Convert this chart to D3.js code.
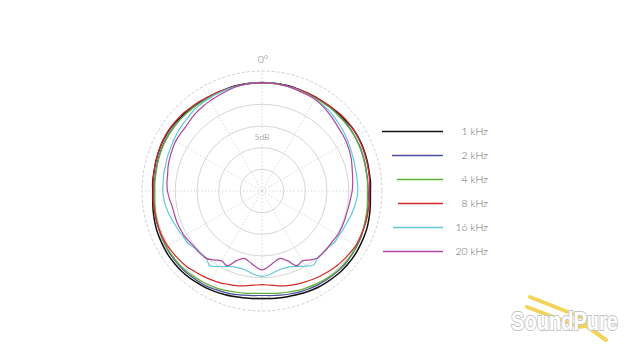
<!DOCTYPE html>
<html>
<head>
<meta charset="utf-8">
<script src="https://cdn.jsdelivr.net/npm/d3@7"></script>
<style>
  body { margin: 0; background: #fff; }
  .grid-line { fill: none; stroke: #d6d6d6; stroke-width: 1; }
  .grid-dash { fill: none; stroke: #cfcfcf; stroke-width: 1; stroke-dasharray: 3,2; }
  .spoke { stroke: #dadada; stroke-width: 1; stroke-dasharray: 1.5,2; }
  .tick-label { font-family: Lato, "Open Sans", sans-serif; font-weight: 300; fill: #6e6e6e; }
  .legend-label { font-family: Lato, "Open Sans", sans-serif; font-weight: 300; fill: #6a6a6a; font-size: 10.5px; }
</style>
</head>
<body>
<div id="wrapper"></div>
<script>

// 1. Data (relative level in dB, sampled every 5 degrees, right and left half)

const halfAngles = d3.range(0, 185, 5)
const frequencies = ["1 kHz", "2 kHz", "4 kHz", "8 kHz", "16 kHz", "20 kHz"]
const ringTicks = [-20, -15, -10, -5, 0]
const spokeAngles = d3.range(0, 360, 30)

const level1kRight = [0.0,0.0,0.0,0.0,-0.1,-0.1,-0.1,-0.1,0.0,0.1,0.2,0.4,0.4,0.4,0.3,0.2,0.1,0.1,0.0,0.1,0.3,0.5,0.7,0.8,0.9,1.0,1.0,1.0,0.9,0.8,0.7,0.5,0.3,0.1,0.0,-0.1,-0.2]
const level1kLeft  = [0.0,0.0,0.0,0.0,-0.1,-0.1,-0.1,0.0,0.1,0.3,0.4,0.6,0.6,0.6,0.5,0.4,0.3,0.3,0.2,0.3,0.5,0.7,0.9,1.0,1.1,1.2,1.2,1.2,1.1,0.9,0.8,0.6,0.4,0.2,0.0,-0.1,-0.2]

const level2kRight = [0.0,0.0,0.0,-0.1,-0.1,-0.2,-0.2,-0.2,-0.1,-0.2,-0.1,-0.1,-0.2,-0.2,-0.3,-0.4,-0.5,-0.5,-0.5,-0.4,-0.3,-0.1,0.0,0.2,0.3,0.4,0.5,0.5,0.4,0.3,0.2,0.0,-0.2,-0.4,-0.6,-0.8,-0.9]
const level2kLeft  = [0.0,0.0,0.0,-0.1,-0.1,-0.2,-0.2,-0.1,0.0,0.0,0.1,0.2,0.2,0.2,0.1,0.0,-0.1,-0.1,-0.1,0.0,0.1,0.3,0.4,0.5,0.6,0.7,0.7,0.7,0.6,0.5,0.4,0.1,-0.1,-0.3,-0.6,-0.8,-0.9]

const level4kRight = [0.0,0.0,-0.1,-0.1,-0.2,-0.2,-0.2,-0.3,-0.2,-0.2,-0.2,-0.2,-0.2,-0.3,-0.4,-0.5,-0.6,-0.6,-0.7,-0.6,-0.4,-0.3,-0.1,0.1,0.2,0.3,0.3,0.3,0.2,0.0,-0.2,-0.4,-0.6,-0.9,-1.1,-1.3,-1.4]
const level4kLeft  = [0.0,0.0,-0.1,-0.1,-0.2,-0.2,-0.2,-0.2,-0.1,0.0,0.1,0.1,0.1,0.1,0.0,-0.1,-0.2,-0.2,-0.3,-0.2,0.0,0.1,0.3,0.4,0.5,0.5,0.5,0.4,0.3,0.1,-0.1,-0.3,-0.6,-0.9,-1.1,-1.3,-1.4]

const level8kRight = [-0.1,-0.1,-0.1,-0.1,-0.1,-0.1,-0.1,0.0,0.1,0.3,0.4,0.4,0.4,0.3,0.2,0.1,0.0,-0.1,-0.2,-0.1,-0.1,0.0,0.0,0.0,0.0,-0.2,-0.4,-0.6,-0.9,-1.2,-1.5,-1.8,-2.1,-2.4,-2.8,-3.2,-3.4]
const level8kLeft  = [-0.1,-0.1,-0.1,-0.1,-0.1,0.0,0.0,0.2,0.3,0.5,0.6,0.7,0.7,0.6,0.5,0.4,0.3,0.2,0.1,0.2,0.2,0.3,0.3,0.3,0.2,0.0,-0.2,-0.4,-0.8,-1.1,-1.4,-1.7,-2.1,-2.4,-2.8,-3.2,-3.4]

const level16kRight = [0.0,0.0,-0.1,-0.2,-0.3,-0.4,-0.5,-0.7,-0.9,-1.2,-1.5,-1.8,-2.1,-2.4,-2.6,-2.8,-2.9,-2.9,-2.9,-3.1,-3.4,-3.7,-4.1,-4.3,-4.5,-4.5,-4.9,-4.9,-5.0,-4.2,-5.0,-5.8,-6.4,-6.5,-6.2,-5.6,-5.3]
const level16kLeft  = [0.0,0.0,-0.1,-0.2,-0.2,-0.3,-0.4,-0.5,-0.6,-0.9,-1.1,-1.3,-1.5,-1.7,-1.8,-2.0,-2.0,-2.1,-2.1,-2.3,-2.6,-3.0,-3.4,-3.7,-4.0,-4.1,-4.6,-4.7,-4.9,-4.0,-4.9,-5.8,-6.4,-6.5,-6.2,-5.6,-5.3]

const level20kRight = [0.0,0.0,-0.1,-0.2,-0.4,-0.5,-0.6,-0.9,-1.3,-1.7,-2.1,-2.3,-2.5,-2.8,-3.1,-3.5,-3.8,-4.0,-4.2,-4.5,-4.7,-4.8,-4.8,-4.8,-4.8,-5.0,-5.0,-5.0,-4.9,-5.6,-6.4,-6.0,-7.9,-8.9,-8.4,-7.5,-6.8]
const level20kLeft  = [0.0,0.0,-0.1,-0.3,-0.6,-0.8,-1.0,-1.2,-1.4,-1.7,-2.0,-2.0,-2.0,-2.2,-2.4,-2.6,-2.9,-3.0,-3.2,-3.6,-4.0,-4.1,-4.1,-4.2,-4.3,-4.6,-4.8,-4.8,-4.8,-5.6,-6.4,-6.0,-7.9,-8.9,-8.4,-7.5,-6.8]

const rightLevels = [level1kRight, level2kRight, level4kRight, level8kRight, level16kRight, level20kRight]
const leftLevels = [level1kLeft, level2kLeft, level4kLeft, level8kLeft, level16kLeft, level20kLeft]

// styles
const colors = ["#111111", "#4b4f9c", "#5db134", "#d42a2a", "#5fc9d8", "#b0469f"]
const legendLineStart = [382, 392, 397, 398, 393, 383]

// 2. Dimensions

const width = 640
const height = 361
const center = { x: 262, y: 191 }
const outerRadius = 120

// 3. Canvas

const svg = d3.select("#wrapper")
  .append("svg")
    .attr("width", width)
    .attr("height", height)

svg.append("rect")
    .attr("width", width)
    .attr("height", height)
    .attr("fill", "#fff")

const bounds = svg.append("g")
    .attr("transform", `translate(${center.x},${center.y})`)

// 4. Scales

const radiusScale = d3.scaleLinear()
  .domain([-25, 0])
  .range([0, 108.4])

const toRad = deg => deg * Math.PI / 180

// 5. Peripherals

const peripherals = bounds.append("g")

ringTicks.forEach(d => {
  peripherals.append("circle")
    .attr("r", radiusScale(d))
    .attr("class", "grid-line")
})

peripherals.append("circle")
  .attr("r", outerRadius)
  .attr("class", "grid-dash")

spokeAngles.forEach(a => {
  peripherals.append("line")
    .attr("x2", Math.sin(toRad(a)) * outerRadius)
    .attr("y2", -Math.cos(toRad(a)) * outerRadius)
    .attr("class", "spoke")
})

peripherals.append("text")
  .attr("x", 1)
  .attr("y", -outerRadius - 8)
  .attr("text-anchor", "middle")
  .attr("class", "tick-label")
  .style("font-size", "10.5px")
  .text("0°")

const dbLabelY = -radiusScale(-12.5)
peripherals.append("rect")
  .attr("x", -11)
  .attr("y", dbLabelY - 6)
  .attr("width", 22)
  .attr("height", 11)
  .attr("fill", "#fff")

peripherals.append("text")
  .attr("y", dbLabelY + 3)
  .attr("text-anchor", "middle")
  .attr("class", "tick-label")
  .style("font-size", "8.5px")
  .text("5dB")

// 6. Data

const lineGenerator = d3.lineRadial()
  .angle(d => toRad(d[0]))
  .radius(d => radiusScale(d[1]))
  .curve(d3.curveCatmullRomClosed)

frequencies.forEach((f, i) => {
  const right = rightLevels[i].map((v, j) => [halfAngles[j], v])
  const left = leftLevels[i].map((v, j) => [360 - halfAngles[j], v]).slice(1, 36).reverse()
  bounds.append("path")
    .attr("d", lineGenerator(right.concat(left)))
    .attr("fill", "none")
    .attr("stroke", colors[i])
    .attr("stroke-width", i === 0 ? 1.5 : 1.2)
})

// 7. Legend

const legendY = d3.scaleLinear().domain([0, 5]).range([131.5, 251.5])

frequencies.forEach((f, i) => {
  svg.append("line")
    .attr("x1", legendLineStart[i])
    .attr("x2", 443)
    .attr("y1", legendY(i))
    .attr("y2", legendY(i))
    .attr("stroke", colors[i])
    .attr("stroke-width", 1.5)

  svg.append("text")
    .attr("x", 488)
    .attr("y", legendY(i) + 3.8)
    .attr("text-anchor", "end")
    .attr("class", "legend-label")
    .text(f)
})

// 8. Logo

const logo = svg.append("g")

logo.append("path")
  .attr("d", "M530,297 L583,318 Q591,322 585,326 Q580,328 572,324 L527,307 M585,325 L606,340")
  .attr("fill", "none")
  .attr("stroke", "#f3d35a")
  .attr("stroke-width", 4)
  .attr("stroke-linecap", "round")
  .attr("stroke-linejoin", "round")

logo.append("text")
  .attr("x", 511)
  .attr("y", 330)
  .attr("textLength", 107)
  .attr("lengthAdjust", "spacingAndGlyphs")
  .style("font-family", "'Liberation Sans Narrow', 'Liberation Sans', Arial, sans-serif")
  .style("font-weight", "bold")
  .style("font-size", "26px")
  .attr("fill", "#fff")
  .attr("stroke", "#c4c4c4")
  .attr("stroke-width", 2)
  .attr("paint-order", "stroke")
  .text("SoundPure")

</script>
</body>
</html>
